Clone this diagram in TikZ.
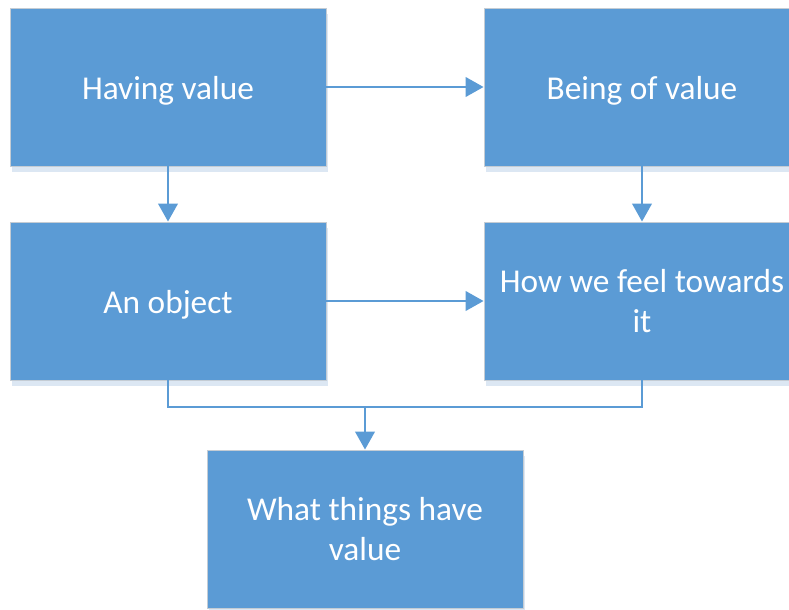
\documentclass[tikz,border=0pt]{standalone}
\usepackage{fontspec}
\setmainfont{Carlito}
\usetikzlibrary{arrows.meta,shadows}
\definecolor{boxblue}{HTML}{5B9BD5}
\definecolor{shadowblue}{HTML}{DCE7F3}
\definecolor{edgegrey}{HTML}{C4CCD4}
\newcommand{\lowertext}[1]{\raisebox{0pt}[\dimexpr\height+5pt\relax][\depth]{#1}}
\tikzset{
  box/.style={rectangle, fill=boxblue, draw=edgegrey, line width=0.6pt,
    minimum width=237pt, minimum height=118.5pt, inner sep=0pt,
    text=white, align=center,
    font=\fontsize{25}{29.5}\selectfont,
    drop shadow={shadow xshift=1.5pt, shadow yshift=-4.5pt, fill=shadowblue, opacity=1}},
  conn/.style={draw=boxblue, line width=2.2pt},
  arr/.style={conn, -{Triangle[width=14.5pt,length=13.5pt]}}
}
\begin{document}
\begin{tikzpicture}[x=0.75pt,y=-0.75pt]
\useasboundingbox (0,0) rectangle (789,610);
\node[box] (hv) at (168,87) {\lowertext{Having value}};
\node[box] (bv) at (642,87) {\lowertext{Being of value}};
\node[box] (ob) at (168,301) {\lowertext{An object}};
\node[box] (hw) at (642,301) {How we feel towards\\it};
\node[box] (wt) at (365,529) {What things have\\value};
\coordinate (j) at (365,407);
\draw[arr] (hv.east) -- (bv.west);
\draw[arr] (hv.south) -- (ob.north);
\draw[arr] (bv.south) -- (hw.north);
\draw[arr] (ob.east) -- (hw.west);
\draw[conn] (ob.south) |- (j);
\draw[conn] (hw.south) |- (j);
\draw[arr] (j) -- (wt.north);
\end{tikzpicture}
\end{document}
